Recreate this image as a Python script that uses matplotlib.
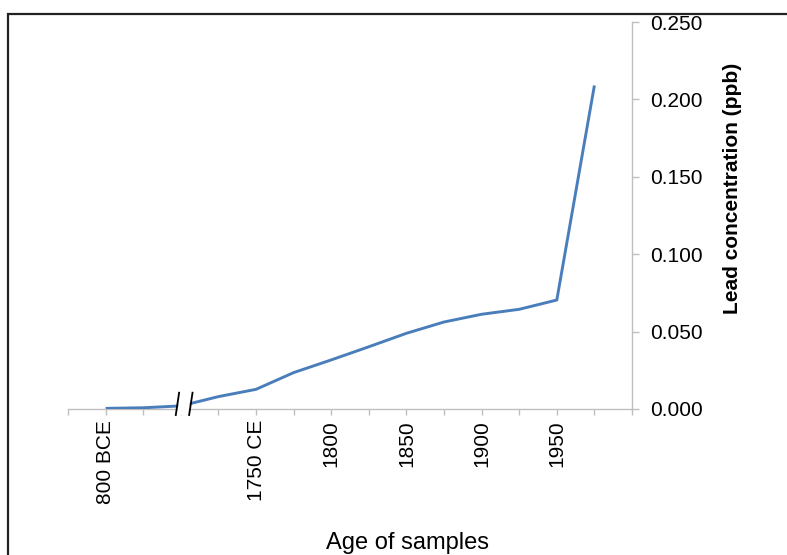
import matplotlib
matplotlib.use("Agg")
import matplotlib.pyplot as plt
from matplotlib.patches import Rectangle, Polygon
from matplotlib.lines import Line2D

plt.rcParams['font.family'] = ['Liberation Sans', 'DejaVu Sans']

# category positions (index) and labels
sample_labels = ["800 BCE", "", "", "1725", "1750 CE", "1775", "1800", "1825",
                 "1850", "1875", "1900", "1925", "1950", "1975"]
lead_ppb = [0.0004, 0.0008, 0.0020, 0.0080, 0.0127, 0.0235, 0.0317, 0.0402,
            0.0489, 0.0562, 0.0612, 0.0644, 0.0704, 0.2090]
shown_labels = {0: "800 BCE", 4: "1750 CE", 6: "1800", 8: "1850", 10: "1900", 12: "1950"}
y_ticks = [0.000, 0.050, 0.100, 0.150, 0.200, 0.250]

W, H = 787, 555
fig = plt.figure(figsize=(W / 100, H / 100), dpi=100)
ax = fig.add_axes([68 / W, (H - 409) / H, (632 - 68) / W, (409 - 22) / H])

xs = list(range(len(lead_ppb)))
ax.plot(xs, lead_ppb, color='#4a7ebb', lw=2.1, solid_capstyle='butt', zorder=3)

ax.set_xlim(-1, 14)
ax.set_ylim(0, 0.25)

gray = '#bfbfbf'
for s in ['left', 'top']:
    ax.spines[s].set_visible(False)
for s in ['right', 'bottom']:
    ax.spines[s].set_color(gray)
    ax.spines[s].set_linewidth(1.0)

ax.yaxis.tick_right()
ax.set_yticks(y_ticks)
ax.set_yticklabels([f"{v:.3f}" for v in y_ticks])
ax.tick_params(axis='y', which='both', right=True, left=False, direction='out',
               length=5, width=1, color=gray, labelsize=15, pad=8, labelcolor='#000000')

ax.set_xticks(range(-1, 15))
ax.set_xticklabels([shown_labels.get(i, "") for i in range(-1, 15)], rotation=90)
ax.tick_params(axis='x', direction='out', length=4, width=1, color=gray,
               labelsize=15, pad=4, labelcolor='#000000')

# axis break marks over the line
def px_to_val(ypix):
    return (409 - ypix) / (409 - 22) * 0.25

def px_to_x(xpix):
    return (xpix - 106) / 37.5

xa1, xa2 = px_to_x(179.3), px_to_x(176.0)
xb1, xb2 = px_to_x(192.7), px_to_x(189.3)
yt, yb = px_to_val(392.7), px_to_val(415)
gap = Polygon([[xa1 + 0.03, yt], [xb1 - 0.03, yt], [xb2 - 0.03, yb], [xa2 + 0.03, yb]],
              closed=True, facecolor='white', edgecolor='none', zorder=4, clip_on=False)
ax.add_patch(gap)
for (x1, x2) in [(xa1, xa2), (xb1, xb2)]:
    ax.add_line(Line2D([x1, x2], [yt, yb], color='#000000', lw=1.3, zorder=5, clip_on=False))

fig.text(733 / W, (H - 188) / H, "Lead concentration (ppb)", rotation=90,
         ha='center', va='center', fontsize=15, fontweight='bold')
fig.text(408 / W, (H - 543) / H, "Age of samples", ha='center', va='center', fontsize=17)

frame = Rectangle((8 / W, -0.1), 1.2, (H - 14) / H + 0.1, transform=fig.transFigure,
                  fill=False, edgecolor='#222222', lw=1.6, clip_on=False)
fig.add_artist(frame)

fig.savefig("out.png", dpi=100)
